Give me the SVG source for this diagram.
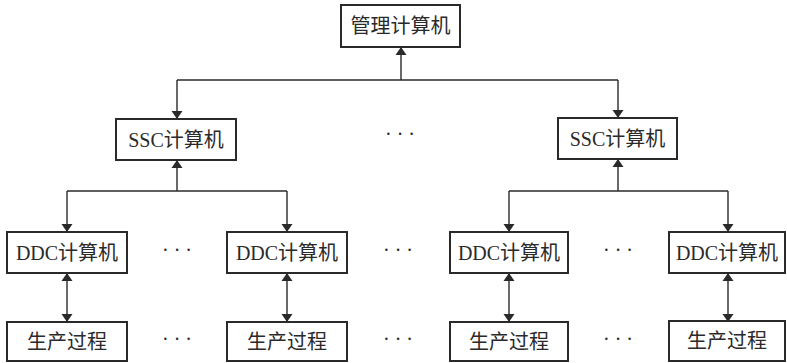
<svg xmlns="http://www.w3.org/2000/svg" width="787" height="363" viewBox="0 0 787 363">
<style>
.box{fill:#fff;stroke:#2a2a2a;stroke-width:2}
.t{font-family:"Liberation Serif","Noto Sans CJK SC",serif;font-size:20px;fill:#2a2a2a;text-anchor:middle;dominant-baseline:central}
.ln{fill:none;stroke:#2a2a2a;stroke-width:1.4}
.dots{font-family:"Liberation Serif",serif;font-size:20px;fill:#2a2a2a;text-anchor:middle}
</style>
<defs>
<marker id="ah" viewBox="0 0 8 14" refX="8" refY="7" markerWidth="8" markerHeight="14" markerUnits="userSpaceOnUse" orient="auto-start-reverse">
<path d="M0,1.5 L8,7 L0,12.5 z" fill="#2a2a2a"/>
</marker>
</defs>
<rect width="787" height="363" fill="#fff"/>
<g id="connectors">
<path class="ln" d="M401,80 V47" marker-end="url(#ah)"/>
<path class="ln" d="M177,80 H618"/>
<path class="ln" d="M177,80 V119" marker-end="url(#ah)"/>
<path class="ln" d="M618,80 V118" marker-end="url(#ah)"/>
<path class="ln" d="M177,191 V160" marker-end="url(#ah)"/>
<path class="ln" d="M67,191 H287"/>
<path class="ln" d="M67,191 V232" marker-end="url(#ah)"/>
<path class="ln" d="M287,191 V232" marker-end="url(#ah)"/>
<path class="ln" d="M618,191 V159" marker-end="url(#ah)"/>
<path class="ln" d="M509,191 H728"/>
<path class="ln" d="M509,191 V232" marker-end="url(#ah)"/>
<path class="ln" d="M728,191 V232" marker-end="url(#ah)"/>
<path class="ln" d="M67,273 V322" marker-start="url(#ah)" marker-end="url(#ah)"/>
<path class="ln" d="M287,273 V322" marker-start="url(#ah)" marker-end="url(#ah)"/>
<path class="ln" d="M509,273 V322" marker-start="url(#ah)" marker-end="url(#ah)"/>
<path class="ln" d="M728,273 V322" marker-start="url(#ah)" marker-end="url(#ah)"/>
</g>
<g id="mgmt"><rect class="box" x="341" y="5" width="119" height="42"/><text class="t" x="400.5" y="26">管理计算机</text></g>
<g id="ssc1"><rect class="box" x="116" y="119" width="120" height="41"/><text class="t" x="176" y="139.5">SSC计算机</text></g>
<g id="ssc2"><rect class="box" x="558" y="118" width="119" height="41"/><text class="t" x="617.5" y="138.5">SSC计算机</text></g>
<g id="ddc1"><rect class="box" x="7" y="232" width="120" height="41"/><text class="t" x="67" y="252.5">DDC计算机</text></g>
<g id="ddc2"><rect class="box" x="227" y="232" width="120" height="41"/><text class="t" x="287" y="252.5">DDC计算机</text></g>
<g id="ddc3"><rect class="box" x="450" y="232" width="118" height="41"/><text class="t" x="509" y="252.5">DDC计算机</text></g>
<g id="ddc4"><rect class="box" x="669" y="232" width="116" height="41"/><text class="t" x="727" y="252.5">DDC计算机</text></g>
<g id="proc1"><rect class="box" x="7" y="322" width="120" height="39"/><text class="t" x="67" y="341.5">生产过程</text></g>
<g id="proc2"><rect class="box" x="227" y="322" width="120" height="39"/><text class="t" x="287" y="341.5">生产过程</text></g>
<g id="proc3"><rect class="box" x="450" y="322" width="118" height="39"/><text class="t" x="509" y="341.5">生产过程</text></g>
<g id="proc4"><rect class="box" x="669" y="321" width="116" height="40"/><text class="t" x="727" y="341">生产过程</text></g>
<g id="ellipses">
<text class="dots" x="400" y="141">· · ·</text>
<text class="dots" x="177" y="257">· · ·</text>
<text class="dots" x="398" y="257">· · ·</text>
<text class="dots" x="618" y="257">· · ·</text>
<text class="dots" x="177" y="346">· · ·</text>
<text class="dots" x="398" y="346">· · ·</text>
<text class="dots" x="618" y="346">· · ·</text>
</g>
</svg>
